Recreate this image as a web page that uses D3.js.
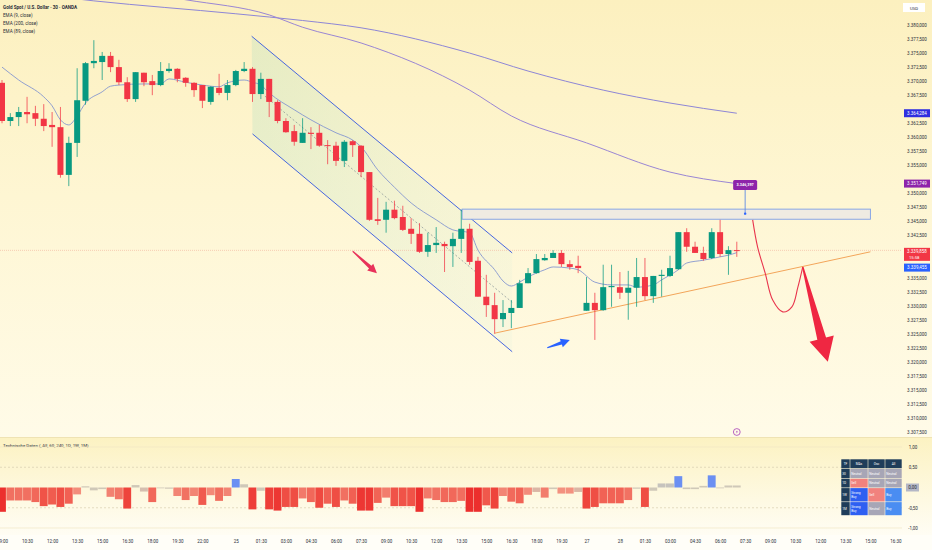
<!DOCTYPE html>
<html>
<head>
<meta charset="utf-8">
<script src="https://cdn.jsdelivr.net/npm/d3@7"></script>
<style>
  html, body { margin: 0; padding: 0; background: #fffbe8; }
  svg { display: block; }
</style>
</head>
<body>
<div id="chart"></div>
<script>
// XAUUSD 30m candles (bar index 0..88)
const candleOpen = [3369.7,3362.9,3363.6,3364.5,3364.3,3363.3,3362.2,3361.8,3353.3,3359.0,
  3366.5,3373.2,3373.4,3374.5,3372.5,3369.8,3366.8,3371.5,3370.0,3369.3,
  3371.8,3372.2,3370.6,3369.7,3369.3,3366.3,3368.8,3367.9,3369.3,3371.8,
  3372.2,3367.7,3370.4,3366.3,3362.9,3361.1,3359.0,3360.8,3360.8,3358.6,
  3358.5,3355.8,3359.3,3358.5,3353.8,3345.4,3345.3,3347.1,3345.8,3343.7,
  3342.8,3339.6,3340.8,3341.0,3340.6,3341.9,3343.7,3338.0,3331.6,3330.1,
  3327.6,3328.7,3329.6,3334.0,3335.8,3338.1,3338.5,3339.4,3337.4,3337.1,
  3329.1,3330.5,3329.2,3333.3,3333.3,3332.3,3333.2,3335.1,3331.7,3335.3,
  3335.3,3336.5,3343.1,3340.5,3339.4,3338.5,3343.1,3339.2,3339.9];
const candleHigh = [3370.2,3364.3,3365.4,3367.2,3365.6,3365.9,3364.5,3365.4,3360.1,3372.3,
  3373.4,3377.3,3375.2,3375.2,3373.8,3370.7,3371.6,3371.5,3371.1,3373.4,
  3373.2,3372.3,3370.7,3369.8,3369.3,3369.1,3371.3,3370.2,3372.0,3373.4,
  3372.5,3371.5,3370.4,3366.6,3363.4,3362.2,3363.4,3361.8,3362.2,3359.5,
  3359.2,3359.5,3359.5,3358.6,3353.8,3349.2,3348.5,3348.7,3347.8,3345.6,
  3344.7,3343.0,3344.0,3341.4,3343.0,3347.1,3344.6,3338.7,3335.5,3332.3,
  3331.0,3331.0,3334.6,3336.7,3339.2,3339.2,3339.9,3339.9,3338.1,3338.9,
  3335.1,3332.3,3337.3,3337.3,3336.0,3336.2,3338.5,3338.5,3335.3,3336.4,
  3338.9,3343.1,3343.8,3341.4,3340.5,3343.8,3345.3,3340.6,3341.4];
const candleLow = [3362.5,3362.0,3362.0,3362.5,3362.0,3361.1,3358.3,3352.8,3351.3,3356.5,
  3365.8,3372.3,3370.2,3371.6,3369.3,3366.3,3366.3,3369.1,3367.5,3369.1,
  3371.5,3369.8,3369.0,3367.2,3365.2,3365.8,3367.5,3366.6,3369.1,3371.6,
  3366.3,3366.8,3363.6,3362.5,3360.8,3358.5,3359.0,3357.9,3358.3,3355.2,
  3354.9,3354.7,3356.5,3352.9,3345.1,3344.4,3343.0,3345.4,3343.3,3341.0,
  3339.4,3338.7,3339.4,3336.0,3336.9,3339.4,3337.3,3331.6,3328.0,3325.0,
  3326.2,3326.0,3329.6,3334.0,3335.7,3338.0,3338.5,3336.9,3336.4,3335.8,
  3329.1,3323.9,3329.1,3329.8,3331.2,3327.5,3329.8,3331.0,3330.5,3331.6,
  3335.1,3336.4,3339.6,3339.4,3338.0,3338.3,3338.7,3335.5,3338.7];
const candleClose = [3362.9,3363.6,3364.5,3364.1,3363.3,3362.0,3361.8,3353.3,3359.0,3366.6,
  3373.2,3373.6,3374.5,3372.5,3369.8,3366.8,3371.6,3369.8,3369.3,3371.8,
  3372.2,3370.4,3369.7,3368.4,3366.5,3369.0,3367.9,3369.3,3371.8,3372.2,
  3367.7,3370.4,3366.3,3362.9,3360.9,3359.2,3360.8,3360.6,3358.5,3358.5,
  3355.8,3359.2,3358.6,3353.8,3345.3,3345.1,3347.1,3345.6,3343.5,3342.8,
  3339.6,3340.8,3341.2,3340.6,3341.9,3343.7,3337.8,3331.6,3330.1,3327.6,
  3328.7,3329.6,3334.0,3335.8,3338.3,3338.5,3339.4,3337.4,3336.9,3336.7,
  3330.5,3329.2,3333.3,3333.5,3332.3,3333.2,3335.1,3331.7,3335.3,3335.5,
  3336.7,3343.1,3340.5,3339.4,3338.3,3343.1,3339.2,3339.9,3339.858];

// EMA lines, read at a few bars each
const ema9Bars = [0,2,5,6,7,8,9,10,12,13,14,17,19,20,22,24,26,27,29,30,31,32,35,37,40,42,43,45,47,49,52,54,56,57,59,60,61,62,63,65,66,68,69,71,73,75,76,78,79,81,82,84,86,87,88];
const ema9Values = [3372.5,3370.2,3367.2,3365.6,3363.1,3362.2,3363.8,3366.1,3368.1,3369.1,3369.3,3369.5,3369.5,3370.4,3369.8,3369.3,3369.0,3369.7,3370.2,3369.8,3369.3,3367.9,3364.9,3363.1,3360.8,3359.5,3358.3,3354.2,3351.1,3348.3,3345.3,3343.5,3343.0,3339.9,3336.4,3334.4,3333.5,3334.2,3335.1,3336.4,3336.9,3336.7,3336.4,3334.2,3333.7,3333.7,3333.3,3333.7,3334.6,3336.4,3337.6,3338.1,3338.7,3339.0,3339.455];
const ema200Bars = [0,11,28,36,43,56,63,72,80,88];
const ema200Values = [3386.2,3384.3,3382.0,3380.8,3379.5,3375.0,3371.8,3368.4,3366.1,3364.284];
const ema89Bars = [0,11,22,32,36,43,56,61,70,80,88];
const ema89Values = [3391.6,3387.1,3384.5,3381.8,3379.6,3376.8,3368.4,3363.8,3359.0,3353.8,3351.749];

// Technical rating histogram (-1..1), one per bar
const ratingValues = [-0.60,-0.32,-0.32,-0.32,-0.36,-0.46,-0.42,-0.48,-0.40,-0.17,
  0.03,-0.07,-0.04,-0.23,-0.29,-0.52,0.06,-0.10,-0.36,0.00,
  -0.03,-0.21,-0.31,-0.21,-0.43,-0.19,-0.33,-0.21,0.21,0.08,
  -0.54,-0.08,-0.54,-0.57,-0.48,-0.48,-0.27,-0.36,-0.50,-0.40,
  -0.48,-0.32,-0.40,-0.57,-0.57,-0.38,-0.25,-0.46,-0.46,-0.46,
  -0.60,-0.27,-0.31,-0.36,-0.36,-0.33,-0.60,-0.60,-0.44,-0.52,
  -0.21,-0.35,-0.39,-0.18,-0.11,-0.25,-0.04,-0.15,-0.15,-0.11,
  -0.52,-0.48,-0.39,-0.39,-0.39,-0.31,-0.03,-0.48,-0.08,0.10,
  0.10,0.28,-0.04,-0.04,0.04,0.30,0.00,0.05,0.05];

// time axis
const timeTickBars = [0,3,6,9,12,15,18,21,24,28,31,34,37,40,43,46,49,52,55,58,61,64,67,70,74,77,80,83,86,89,92,95,98,101,104,107];
const timeTickLabels = ["09:00","10:30","12:00","13:30","15:00","16:30","18:00","19:30","22:00","25","01:30","03:00","04:30","06:00","07:30","09:00","10:30","12:00","13:30","15:00","16:30","18:00","19:30","27","28","01:30","03:00","04:30","06:00","07:30","09:00","10:30","12:00","13:30","15:00","16:30"];
const priceTicks = d3.range(3307.5, 3380.01, 2.5);
const ratingTicks = [1, 0.5, -0.5, -1];

// drawings: [bar, price]
const channelTop = [[29.9, 3378.0], [61.1, 3339.4]];
const channelBottom = [[30.0, 3360.6], [61.1, 3321.8]];
const zoneBars = [55.1, 104];
const zonePrices = [3347.2, 3345.4];
const trendLine = [[59.0, 3325.1], [104, 3339.6]];
const calloutBar = 89;
const calloutLabelPrice = 3351.5;
const calloutPrice = 3346.397;
const pathCurve = [[89.9, 3345.3], [90.5, 3340.4], [91.4, 3335.8], [92.3, 3331.0], [93.5, 3328.9], [94.6, 3329.8], [95.3, 3333.2], [95.9, 3336.9]];
const bigArrow = [[95.9, 3336.9], [98.9, 3320.0]];
const downArrow = [[42.0, 3339.7], [44.9, 3335.8]];
const upArrow = [[65.3, 3322.5], [68.0, 3323.9]];

// ratings table
const tableHeader = ["TF", "MAs", "Osc", "All"];
const tableFrames = ["30", "1D", "1W", "1M"];
const tableMAs = ["Neutral", "Sell", "Strong Buy", "Strong Buy"];
const tableOsc = ["Neutral", "Neutral", "Sell", "Neutral"];
const tableAll = ["Neutral", "Neutral", "Buy", "Buy"];

const width = 932;
const height = 550;
const paneRight = 902;
const mainBottom = 437;

const svg = d3.select("#chart").append("svg")
  .attr("width", width)
  .attr("height", height)
  .style("font-family", "Roboto, 'Open Sans', sans-serif");

const de = d3.formatLocale({ decimal: ",", thousands: ".", grouping: [3], currency: ["", ""], minus: "-" });
const fmtPrice = de.format(",.3f");
const fmtRating = de.format(".2f");

const x = d3.scaleLinear().domain([0, 107]).range([2, 2 + 8.35 * 107]);
const y = d3.scaleLinear().domain([3307.5, 3380]).range([432, 25]);
const yr = d3.scaleLinear().domain([-1, 1]).range([528, 447]);
const pt = d => [x(d[0]), y(d[1])];

// backgrounds
const defs = svg.append("defs");
const gMain = defs.append("linearGradient").attr("id", "bgMain").attr("x1", 0).attr("x2", 0).attr("y1", 0).attr("y2", 1);
gMain.append("stop").attr("offset", "0%").attr("stop-color", "#fcf0bf");
gMain.append("stop").attr("offset", "45%").attr("stop-color", "#fef6d3");
gMain.append("stop").attr("offset", "100%").attr("stop-color", "#fffbe8");
const gInd = defs.append("linearGradient").attr("id", "bgInd").attr("x1", 0).attr("x2", 0).attr("y1", 0).attr("y2", 1);
gInd.append("stop").attr("offset", "0%").attr("stop-color", "#fcf2c2");
gInd.append("stop").attr("offset", "100%").attr("stop-color", "#fffdf4");
const gChan = defs.append("linearGradient").attr("id", "chanFill").attr("x1", 0).attr("x2", 1).attr("y1", 0).attr("y2", 0);
gChan.append("stop").attr("offset", "0%").attr("stop-color", "#a8dcc0").attr("stop-opacity", 0.26);
gChan.append("stop").attr("offset", "100%").attr("stop-color", "#c4e8d6").attr("stop-opacity", 0.1);
defs.append("clipPath").attr("id", "clipMain")
  .append("rect").attr("x", 0).attr("y", 0).attr("width", paneRight).attr("height", mainBottom);

svg.append("rect").attr("width", width).attr("height", mainBottom).attr("fill", "url(#bgMain)");
svg.append("rect").attr("y", mainBottom).attr("width", width).attr("height", 98).attr("fill", "url(#bgInd)");
svg.append("rect").attr("y", 535).attr("width", width).attr("height", 15).attr("fill", "#fffef8");
svg.append("line").attr("x1", 0).attr("x2", width).attr("y1", mainBottom + 0.5).attr("y2", mainBottom + 0.5)
  .attr("stroke", "#efe3b4").attr("stroke-width", 1);

const main = svg.append("g").attr("clip-path", "url(#clipMain)");

// channel fill + lines
main.append("polygon")
  .attr("points", [pt(channelTop[0]), pt(channelTop[1]), pt(channelBottom[1]), pt(channelBottom[0])].map(p => p.join(",")).join(" "))
  .attr("fill", "url(#chanFill)");
[channelTop, channelBottom].forEach(c => {
  main.append("line")
    .attr("x1", x(c[0][0])).attr("y1", y(c[0][1]))
    .attr("x2", x(c[1][0])).attr("y2", y(c[1][1]))
    .attr("stroke", "#3356e0").attr("stroke-width", 0.9);
});
const midStart = channelTop[0][0] + 1.6;
const midAt = b => {
  const t = (b - channelTop[0][0]) / (channelTop[1][0] - channelTop[0][0]);
  const top = channelTop[0][1] + t * (channelTop[1][1] - channelTop[0][1]);
  const bot = channelBottom[0][1] + t * (channelBottom[1][1] - channelBottom[0][1]);
  return (top + bot) / 2;
};
main.append("line")
  .attr("x1", x(midStart)).attr("y1", y(midAt(midStart)))
  .attr("x2", x(channelTop[1][0])).attr("y2", y(midAt(channelTop[1][0])))
  .attr("stroke", "#8f9a9a").attr("stroke-width", 0.8).attr("stroke-dasharray", "2,2");

// resistance zone
main.append("rect")
  .attr("x", x(zoneBars[0])).attr("y", y(zonePrices[0]))
  .attr("width", x(zoneBars[1]) - x(zoneBars[0]))
  .attr("height", y(zonePrices[1]) - y(zonePrices[0]))
  .attr("fill", "#efebe2").attr("stroke", "#7d9ee6").attr("stroke-width", 0.9);

// current price line
main.append("line")
  .attr("x1", 0).attr("x2", paneRight)
  .attr("y1", y(candleClose[88])).attr("y2", y(candleClose[88]))
  .attr("stroke", "#f0b9a4").attr("stroke-width", 0.7).attr("stroke-dasharray", "1,1");

// support trendline
main.append("line")
  .attr("x1", x(trendLine[0][0])).attr("y1", y(trendLine[0][1]))
  .attr("x2", x(trendLine[1][0])).attr("y2", y(trendLine[1][1]))
  .attr("stroke", "#f3a55a").attr("stroke-width", 1);

// EMA lines
const emaLine = d3.line().x(d => x(d[0])).y(d => y(d[1])).curve(d3.curveMonotoneX);
main.append("path").datum(d3.zip(ema200Bars, ema200Values)).attr("d", emaLine)
  .attr("fill", "none").attr("stroke", "#8e86d6").attr("stroke-width", 1);
main.append("path").datum(d3.zip(ema89Bars, ema89Values)).attr("d", emaLine)
  .attr("fill", "none").attr("stroke", "#9a86d4").attr("stroke-width", 1);
main.append("path").datum(d3.zip(ema9Bars, ema9Values)).attr("d", emaLine)
  .attr("fill", "none").attr("stroke", "#8596cf").attr("stroke-width", 0.9);

// candles
const candles = d3.range(candleOpen.length).map(i => ({
  i, o: candleOpen[i], h: candleHigh[i], l: candleLow[i], c: candleClose[i]
}));
const up = "#089981", down = "#f23645";
const cg = main.append("g");
cg.selectAll("line")
  .data(candles)
  .join("line")
    .attr("x1", d => x(d.i)).attr("x2", d => x(d.i))
    .attr("y1", d => y(d.h)).attr("y2", d => y(d.l))
    .attr("stroke", d => d.c >= d.o ? up : down)
    .attr("stroke-opacity", 0.75)
    .attr("stroke-width", 1);
cg.selectAll("rect")
  .data(candles)
  .join("rect")
    .attr("x", d => x(d.i) - 3)
    .attr("width", 6)
    .attr("y", d => y(Math.max(d.o, d.c)))
    .attr("height", d => Math.max(1, Math.abs(y(d.o) - y(d.c))))
    .attr("fill", d => d.c >= d.o ? up : down);

// callout
const cx = x(calloutBar);
main.append("line")
  .attr("x1", cx).attr("x2", cx)
  .attr("y1", y(calloutLabelPrice) + 5).attr("y2", y(calloutPrice))
  .attr("stroke", "#5f8be3").attr("stroke-width", 0.9);
main.append("circle").attr("cx", cx).attr("cy", y(calloutPrice)).attr("r", 1.2).attr("fill", "#2962ff");
main.append("rect")
  .attr("x", cx - 12).attr("y", y(calloutLabelPrice) - 5)
  .attr("width", 24).attr("height", 10).attr("rx", 1.5)
  .attr("fill", "#8e24aa");
main.append("text")
  .attr("x", cx).attr("y", y(calloutLabelPrice) + 1.5)
  .attr("text-anchor", "middle")
  .style("font-size", "3.8px").style("font-weight", "700").style("fill", "#ffffff")
  .text(fmtPrice(calloutPrice));

// projected path + arrows
main.append("path")
  .datum(pathCurve)
  .attr("d", d3.line().x(d => x(d[0])).y(d => y(d[1])).curve(d3.curveCatmullRom))
  .attr("fill", "none").attr("stroke", "#e8344c").attr("stroke-width", 1.1);

function arrowPoints(a, b, tailW, shaftW, headLen, headW) {
  const p0 = pt(a), p1 = pt(b);
  const dx = p1[0] - p0[0], dy = p1[1] - p0[1];
  const len = Math.hypot(dx, dy);
  const ux = dx / len, uy = dy / len, nx = -uy, ny = ux;
  const bx = p1[0] - ux * headLen, by = p1[1] - uy * headLen;
  return [
    [p0[0] + nx * tailW / 2, p0[1] + ny * tailW / 2],
    [bx + nx * shaftW / 2, by + ny * shaftW / 2],
    [bx + nx * headW / 2, by + ny * headW / 2],
    p1,
    [bx - nx * headW / 2, by - ny * headW / 2],
    [bx - nx * shaftW / 2, by - ny * shaftW / 2],
    [p0[0] - nx * tailW / 2, p0[1] - ny * tailW / 2]
  ].map(p => p.join(",")).join(" ");
}
main.append("polygon").attr("points", arrowPoints(bigArrow[0], bigArrow[1], 1.5, 9, 24, 25)).attr("fill", "#ef2742");
main.append("polygon").attr("points", arrowPoints(downArrow[0], downArrow[1], 1.2, 3.5, 9, 9)).attr("fill", "#e8325a");
main.append("polygon").attr("points", arrowPoints(upArrow[0], upArrow[1], 1.2, 3.5, 9, 9)).attr("fill", "#2962ff");

// event icon
const icon = svg.append("g").attr("transform", `translate(${x(88)},${mainBottom - 5})`);
icon.append("circle").attr("r", 3.4).attr("fill", "#fffbe8").attr("stroke", "#9c27b0").attr("stroke-width", 0.7);
icon.append("path").attr("d", "M0.6,-2 L-1,0.3 L0.3,0.3 L-0.6,2 L1.1,-0.4 L-0.2,-0.4 Z").attr("fill", "#9c27b0");

// legend top-left
const legend = svg.append("g").style("fill", "#2a2e39");
legend.append("text").attr("x", 3).attr("y", 9).style("font-size", "4.6px").style("font-weight", "700")
  .text("Gold Spot / U.S. Dollar · 30 · OANDA");
["EMA (9, close)", "EMA (200, close)", "EMA (89, close)"].forEach((t, i) => {
  legend.append("text").attr("x", 3).attr("y", 17 + i * 8).style("font-size", "4.6px").text(t);
});

// price tags on the axis (value, colour, optional second line)
const tagList = [
  { v: ema200Values[ema200Values.length - 1], color: "#2f2fe0", dy: 0 },
  { v: ema89Values[ema89Values.length - 1], color: "#8e24aa", dy: 0 },
  { v: candleClose[88], color: "#f23645", dy: 1.5, sub: "15:58" },
  { v: ema9Values[ema9Values.length - 1], color: "#2962ff", dy: 15 }
];
const tagY = t => y(t.v) + t.dy;

// price axis: ticks hidden where a tag sits on them
const freeTicks = priceTicks.filter(p => !tagList.some(t => y(p) > tagY(t) - 5 && y(p) < tagY(t) + (t.sub ? 12 : 6)));
const priceAxis = svg.append("g")
  .attr("transform", `translate(${paneRight + 15},0)`)
  .call(d3.axisRight(y).tickValues(freeTicks).tickSize(0).tickPadding(0).tickFormat(fmtPrice));
priceAxis.select(".domain").remove();
priceAxis.selectAll("text")
  .attr("text-anchor", "middle")
  .style("font-family", "Roboto, 'Open Sans', sans-serif")
  .style("font-size", "4.5px")
  .style("fill", "#2a2e39");

svg.append("rect").attr("x", 903).attr("y", 3).attr("width", 22).attr("height", 9).attr("fill", "#ffffff");
svg.append("text").attr("x", 910).attr("y", 9.5).style("font-size", "4.3px").style("fill", "#2a2e39").text("USD");

tagList.forEach(t => {
  const yPos = tagY(t);
  svg.append("rect").attr("x", 904).attr("y", yPos - 4).attr("width", 26).attr("height", t.sub ? 13 : 8).attr("fill", t.color);
  svg.append("text").attr("x", 917).attr("y", yPos + 1.6).attr("text-anchor", "middle")
    .style("font-size", "4.5px").style("fill", "#ffffff").text(fmtPrice(t.v));
  if (t.sub) {
    svg.append("text").attr("x", 909).attr("y", yPos + 7).style("font-size", "4.2px").style("fill", "#ffffff").text(t.sub);
  }
});

// indicator pane
svg.append("text").attr("x", 3).attr("y", 447).style("font-size", "4.4px").style("fill", "#2a2e39")
  .text("Technische Daten (, All, 60, 240, 1D, 1W, 1M)");
ratingTicks.forEach(v => {
  svg.append("line").attr("x1", 0).attr("x2", paneRight).attr("y1", yr(v)).attr("y2", yr(v))
    .attr("stroke", Math.abs(v) === 1 ? "#f1e7c4" : "#d8cfb0")
    .attr("stroke-width", 0.7)
    .attr("stroke-dasharray", Math.abs(v) === 1 ? null : "2,2");
});
const ratingColor = d3.scaleLinear()
  .domain([-0.6, -0.45, -0.15, -0.09, 0.09, 0.2])
  .range(["#ec2f2d", "#f0564a", "#f3917f", "#cfc8b8", "#cfc8b8", "#6b8ff2"])
  .clamp(true);
svg.append("g")
  .selectAll("rect")
  .data(ratingValues.map((v, i) => ({ i, v })))
  .join("rect")
    .attr("x", d => x(d.i) - 4)
    .attr("width", 7.9)
    .attr("y", d => Math.min(yr(d.v), yr(0)))
    .attr("height", d => Math.max(0.8, Math.abs(yr(d.v) - yr(0))))
    .attr("fill", d => ratingColor(d.v));

const ratingAxis = svg.append("g")
  .attr("transform", `translate(${paneRight + 11},0)`)
  .call(d3.axisRight(yr).tickValues(ratingTicks).tickSize(0).tickPadding(0).tickFormat(fmtRating));
ratingAxis.select(".domain").remove();
ratingAxis.selectAll("text")
  .attr("text-anchor", "middle")
  .style("font-family", "Roboto, 'Open Sans', sans-serif")
  .style("font-size", "4.5px").style("fill", "#2a2e39");
svg.append("rect").attr("x", 906).attr("y", yr(0) - 4).attr("width", 13).attr("height", 8).attr("fill", "#b4b7c6");
svg.append("text").attr("x", 912.5).attr("y", yr(0) + 1.6).attr("text-anchor", "middle")
  .style("font-size", "4.5px").style("fill", "#2a2e39").text(fmtRating(0));

// ratings table
const colX = [841, 850, 868, 885, 902];
const rowY = [459, 468.5, 478.5, 487.8, 501.8, 515.5];
const cellColor = t => ({ "Neutral": "#a7a6b6", "Sell": "#f1827e", "Strong Buy": "#2e5ff2", "Buy": "#4a8df2" })[t] || "#1f3d5a";
const rows = [tableHeader].concat(tableFrames.map((f, r) => [f, tableMAs[r], tableOsc[r], tableAll[r]]));
const tbl = svg.append("g");
rows.forEach((row, r) => {
  row.forEach((t, c) => {
    const fill = (r === 0 || c === 0) ? "#1f3d5a" : cellColor(t);
    tbl.append("rect")
      .attr("x", colX[c] + 0.3).attr("y", rowY[r] + 0.3)
      .attr("width", colX[c + 1] - colX[c] - 0.6).attr("height", rowY[r + 1] - rowY[r] - 0.6)
      .attr("fill", fill);
    const words = t === "Strong Buy" ? ["Strong", "Buy"] : [t];
    const cxm = r === 0 ? (colX[c] + colX[c + 1]) / 2 : colX[c] + 1.2;
    const cym = (rowY[r] + rowY[r + 1]) / 2;
    words.forEach((w, k) => {
      tbl.append("text")
        .attr("x", cxm)
        .attr("y", cym + 1.2 + (k - (words.length - 1) / 2) * 3.6)
        .attr("text-anchor", r === 0 ? "middle" : "start")
        .style("font-size", "3.2px")
        .style("fill", "#ffffff")
        .text(w);
    });
  });
});

// time axis
const timeAxis = svg.append("g")
  .attr("transform", "translate(0,540)")
  .call(d3.axisBottom(x).tickValues(timeTickBars).tickSize(0).tickPadding(0)
    .tickFormat((d, i) => timeTickLabels[i]));
timeAxis.select(".domain").remove();
timeAxis.selectAll("text")
  .style("font-family", "Roboto, 'Open Sans', sans-serif")
  .style("font-size", "4.5px").style("fill", "#2a2e39");
</script>
</body>
</html>
